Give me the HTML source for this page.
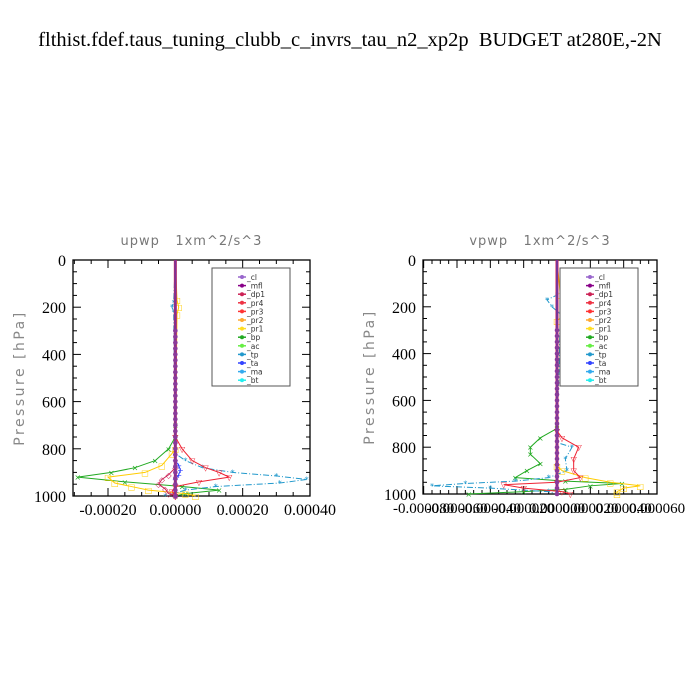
<!DOCTYPE html>
<html><head><meta charset="utf-8">
<style>
body{margin:0;background:#fff;}
svg{display:block;}
text{white-space:pre;}
</style></head>
<body>
<svg id="fig" width="700" height="700" xmlns="http://www.w3.org/2000/svg">
<rect width="700" height="700" fill="#fff"/>
<text x="350" y="46" text-anchor="middle" font-family="Liberation Serif, serif" font-size="20.5">flthist.fdef.taus_tuning_clubb_c_invrs_tau_n2_xp2p  BUDGET at280E,-2N</text>
</svg>
<script>
// ---- shared data ----
const legendNames = ["_cl","_mfl","_dp1","_pr4","_pr3","_pr2","_pr1","_bp","_ac","_tp","_ta","_ma","_bt"];
const legendColors = ["#9966cc","#880088","#cc2255","#ee3344","#ff3333","#ffaa33","#ffdd22","#22aa22","#66ee44","#2299cc","#3344ff","#33aaee","#22eeee"];
const yTicks = [0,200,400,600,800,1000];

// ---- upwp panel data (x in 1e-4) ----
const upXTicks = [-0.0002,0,0.0002,0.0004];
const upXLabels = ["-0.00020","0.00000","0.00020","0.00040"];
const upBpP = [0,700,750,800,850,880,900,920,940,960,975,990,1000];
const upBpV = [0,0,0,-0.2,-0.6,-1.2,-1.9,-2.9,-1.5,0.2,1.3,0.3,0];
const upPr1P = [0,170,200,230,800,820,870,900,920,945,960,975,990,1000];
const upPr1V = [0,0.05,0.1,0.05,0,-0.1,-0.4,-0.9,-2.0,-1.8,-1.3,-0.8,0.3,0.6];
const upTpP = [0,180,200,220,820,850,880,900,915,930,945,960,975,1000];
const upTpV = [0,-0.05,-0.1,-0.05,0,0.3,0.8,1.7,3.0,3.9,3.1,1.2,0.3,-0.3];
const upPr4P = [0,750,800,850,880,900,920,940,960,980,1000];
const upPr4V = [0,0,0.2,0.5,0.9,1.3,1.6,0.7,0,-0.1,0];
const upDp1P = [0,880,910,930,950,970,990,1000];
const upDp1V = [0,0,-0.2,-0.4,-0.5,-0.3,-0.2,0];
const upTaP = [0,850,870,890,910,930,1000];
const upTaV = [0,0,0.1,0.15,0.1,0,0];

// ---- vpwp panel data (x in 1e-5) ----
const vpXTicks = [-0.00008,-0.00006,-0.00004,-0.00002,0,0.00002,0.00004,0.00006];
const vpXLabels = ["-0.000080","-0.000060","-0.000040","-0.000020","0.000000","0.000020","0.000040","0.000060"];
const vpBpP = [0,700,720,760,800,830,870,900,930,945,955,965,980,990,1000];
const vpBpV = [0,0,0,-1.0,-1.6,-1.6,-1.0,-1.8,-2.5,0.5,3.9,2.0,0.5,-2,-5.3];
const vpTpP = [0,150,170,200,230,780,800,850,900,930,945,955,965,975,990,1000];
const vpTpV = [0,0,-0.6,-0.3,0.2,0,0.9,0.5,0.6,-0.5,-2.5,-5.5,-7.5,-4,-0.5,0];
const vpPr4P = [0,730,760,800,850,900,930,950,960,975,990,1000];
const vpPr4V = [0,0,0.3,1.3,1.0,1.0,1.4,0,-3.2,-2,0.3,0.8];
const vpPr1P = [0,150,180,200,230,260,880,900,930,950,965,975,990,1000];
const vpPr1V = [0,0.2,0.6,0.4,0.5,0,0,0.3,1.7,3.2,5,4,3.6,3.6];

const NS="http://www.w3.org/2000/svg";
const svg=document.getElementById('fig');
function el(tag,attrs,parent){const e=document.createElementNS(NS,tag);for(const k in attrs)e.setAttribute(k,attrs[k]);(parent||svg).appendChild(e);return e;}

function panel(cfg){
  const g=el('g',{});
  
  
  const {x0,x1,y0,y1,xmin,xmax}=cfg;
  const sx=v=>x0+(v-xmin)/(xmax-xmin)*(x1-x0);
  const sy=p=>y0+p/1000*(y1-y0);
  const t=el('text',{x:(x0+x1)/2,y:y0-15,'text-anchor':'middle','font-family':'DejaVu Sans, sans-serif','font-size':13,'letter-spacing':1,fill:'#777'},g);
  t.textContent=cfg.title;
  
  
  const yl=el('text',{x:0,y:0,transform:`translate(${x0-49},${(y0+y1)/2}) rotate(-90)`,'text-anchor':'middle','font-family':'DejaVu Sans, sans-serif','font-size':14,'letter-spacing':2.5,fill:'#888'},g);
  yl.textContent='Pressure [hPa]';
  
  
  const fr=el('rect',{x:x0,y:y0,width:x1-x0,height:y1-y0,fill:'none',stroke:'#000','stroke-width':1.3},g);
  
  
  for(let p=0;p<=1000;p+=50){
    const major=p%200===0, L=major?8:4;
    el('line',{x1:x0,x2:x0+L,y1:sy(p),y2:sy(p),stroke:'#000'},g);
    el('line',{x1:x1,x2:x1-L,y1:sy(p),y2:sy(p),stroke:'#000'},g);
  }
  yTicks.forEach(p=>{
    const tx=el('text',{x:x0-7,y:sy(p)+6,'text-anchor':'end','font-family':'Liberation Serif, serif','font-size':16},g);
    tx.textContent=p;
    
    
  });
  const step=(cfg.xTicks[1]-cfg.xTicks[0])/cfg.minor;
  for(let v=Math.ceil(xmin/step-1e-6)*step;v<=xmax+1e-12;v+=step){
    const isMaj=cfg.xTicks.some(t=>Math.abs(t-v)<step*0.01);const L=isMaj?8:4;
    el('line',{x1:sx(v),x2:sx(v),y1:y0,y2:y0+L,stroke:'#000'},g);
    el('line',{x1:sx(v),x2:sx(v),y1:y1,y2:y1-L,stroke:'#000'},g);
  }
  cfg.xTicks.forEach((v,i)=>{
    const tx=el('text',{x:sx(v),y:y1+19,'text-anchor':'middle','font-family':'Liberation Serif, serif','font-size':cfg.xfs},g);
    tx.textContent=cfg.xLabels[i];
    
    
  });
  cfg.series.forEach(s=>{
    const pts=s.p.map((p,i)=>[sx(s.v[i]*cfg.unit),sy(p)]);
    const pl=el('polyline',{points:pts.map(q=>q.join(',')).join(' '),fill:'none',stroke:s.c,'stroke-width':1,'stroke-dasharray':s.dash||''},g);
    
    
    pts.forEach(q=>{if(q[1]>y0+5){const m=el('text',{x:q[0],y:q[1]+3,'text-anchor':'middle','font-size':8,fill:s.c,'font-family':'DejaVu Sans, sans-serif'},g);m.textContent=s.m;
      
      }});
  });
  const cx=sx(0);
  el('line',{x1:cx,x2:cx,y1:y0,y2:y1,stroke:'#cc2255','stroke-width':3},g);
  const cl=el('line',{x1:cx,x2:cx,y1:y0,y2:y1,stroke:'#7a3399','stroke-width':2},g);
  
  
  for(let p=300;p<=1000;p+=25){el('circle',{cx:cx,cy:sy(p),r:2.3,fill:'#8a3a99'},g);}
  const lg=el('g',{},g);
  
  
  el('rect',{x:cfg.lx,y:y0+8,width:78,height:118,fill:'#fff',stroke:'#555'},lg);
  legendNames.forEach((n,i)=>{
    const yy=y0+17+i*8.6;
    el('line',{x1:cfg.lx+26,x2:cfg.lx+34,y1:yy,y2:yy,stroke:legendColors[i],'stroke-width':1.5},lg);
    el('circle',{cx:cfg.lx+30,cy:yy,r:2,fill:legendColors[i]},lg);
    const tx=el('text',{x:cfg.lx+35,y:yy+3,'font-family':'DejaVu Sans, sans-serif','font-size':7.5,fill:'#333'},lg);
    tx.textContent=n;
    
    
  });
}

panel({name:'upwp-panel',title:'upwp   1xm^2/s^3',x0:73,x1:310,y0:260,y1:496,xmin:-0.000304,xmax:0.0004,unit:1e-4,
  xTicks:upXTicks,xLabels:upXLabels,minor:4,xfs:16,lx:212,
  series:[
    {n:'bp',p:upBpP,v:upBpV,c:'#22aa22',m:'×'},
    {n:'pr1',p:upPr1P,v:upPr1V,c:'#ffcc00',m:'□'},
    {n:'tp',p:upTpP,v:upTpV,c:'#2299cc',m:'*',dash:'6,2,1,2'},
    {n:'pr4',p:upPr4P,v:upPr4V,c:'#ee2233',m:'▽'},
    {n:'dp1',p:upDp1P,v:upDp1V,c:'#cc2255',m:'◇'},
    {n:'ta',p:upTaP,v:upTaV,c:'#3344ff',m:'+'}
  ]});
panel({name:'vpwp-panel',title:'vpwp   1xm^2/s^3',x0:423,x1:657,y0:260,y1:494,xmin:-0.0000804,xmax:0.00006,unit:1e-5,
  xTicks:vpXTicks,xLabels:vpXLabels,minor:4,xfs:15,lx:560,
  series:[
    {n:'bp',p:vpBpP,v:vpBpV,c:'#22aa22',m:'×'},
    {n:'pr1',p:vpPr1P,v:vpPr1V,c:'#ffcc00',m:'□'},
    {n:'tp',p:vpTpP,v:vpTpV,c:'#2299cc',m:'*',dash:'6,2,1,2'},
    {n:'pr4',p:vpPr4P,v:vpPr4V,c:'#ee2233',m:'▽'}
  ]});
</script>
</body></html>
